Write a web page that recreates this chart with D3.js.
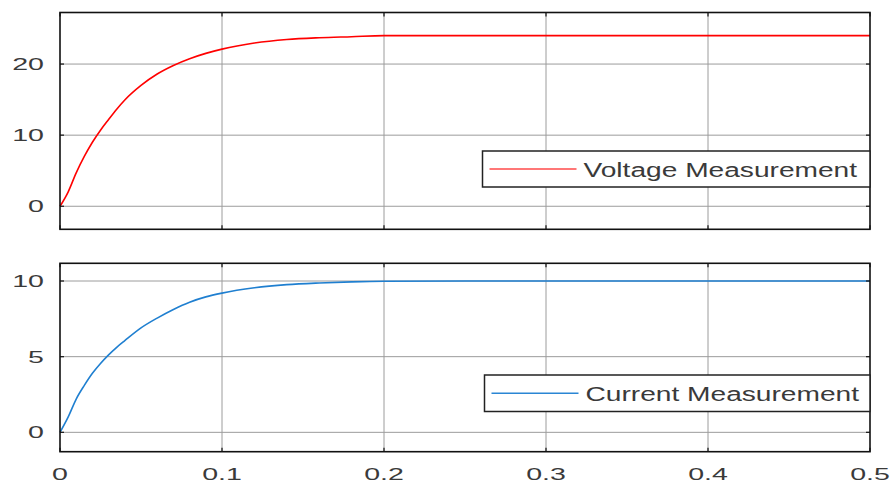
<!DOCTYPE html>
<html>
<head>
<meta charset="utf-8">
<script src="https://cdn.jsdelivr.net/npm/d3@7"></script>
<style>
  html, body { margin: 0; padding: 0; background: #ffffff; }
  svg { display: block; }
</style>
</head>
<body>
<svg id="chart" width="892" height="490"></svg>
<script>
// values
const time    = [0, 0.005, 0.01, 0.015, 0.02, 0.025, 0.03, 0.035, 0.04, 0.05, 0.06, 0.07, 0.08, 0.09, 0.1, 0.12, 0.14, 0.16, 0.18, 0.2, 0.25, 0.3, 0.4, 0.5];
const voltage = [0, 2.0, 4.7, 7.0, 9.0, 10.7, 12.2, 13.65, 14.95, 17.0, 18.6, 19.8, 20.75, 21.5, 22.1, 22.95, 23.45, 23.7, 23.85, 24.0, 24.0, 24.0, 24.0, 24.0];
const current = [0, 1.0, 2.2, 3.1, 3.9, 4.55, 5.12, 5.62, 6.06, 6.9, 7.55, 8.12, 8.6, 8.95, 9.2, 9.55, 9.76, 9.87, 9.94, 9.98, 10, 10, 10, 10];
const xTicks = [0, 0.1, 0.2, 0.3, 0.4, 0.5];
const voltTicks = [0, 10, 20];
const currTicks = [0, 5, 10];

const svg = d3.select("#chart");
const left = 60, right = 870;
const textColor = "#3a3a3a";

const x = d3.scaleLinear().domain([0, 0.5]).range([left, right]);

function panel(cfg) {
  const y = d3.scaleLinear().domain(cfg.domain).range([cfg.bottom, cfg.top]);
  const g = svg.append("g");

  g.append("rect")
    .attr("x", left).attr("y", cfg.top)
    .attr("width", right - left).attr("height", cfg.bottom - cfg.top)
    .attr("fill", "#fff");

  // grid
  g.selectAll(".vg").data(xTicks.slice(1, -1)).enter().append("line")
    .attr("x1", d => x(d)).attr("x2", d => x(d))
    .attr("y1", cfg.top).attr("y2", cfg.bottom)
    .attr("stroke", "#9c9c9c").attr("stroke-width", 1);
  g.selectAll(".hg").data(cfg.ticks).enter().append("line")
    .attr("x1", left).attr("x2", right)
    .attr("y1", d => y(d)).attr("y2", d => y(d))
    .attr("stroke", "#9c9c9c").attr("stroke-width", 1);

  // trace
  const line = d3.line()
    .x((d, i) => x(time[i]))
    .y(d => y(d))
    .curve(d3.curveMonotoneX);
  g.append("path").datum(cfg.values)
    .attr("d", line)
    .attr("fill", "none")
    .attr("stroke", cfg.color)
    .attr("stroke-width", 1.6);

  // inward ticks on all sides
  const tl = 4;
  xTicks.forEach(t => {
    g.append("line").attr("x1", x(t)).attr("x2", x(t))
      .attr("y1", cfg.top).attr("y2", cfg.top + tl)
      .attr("stroke", "#222").attr("stroke-width", 1.3);
    g.append("line").attr("x1", x(t)).attr("x2", x(t))
      .attr("y1", cfg.bottom).attr("y2", cfg.bottom - tl)
      .attr("stroke", "#222").attr("stroke-width", 1.3);
  });
  cfg.ticks.forEach(t => {
    g.append("line").attr("x1", left).attr("x2", left + tl)
      .attr("y1", y(t)).attr("y2", y(t))
      .attr("stroke", "#222").attr("stroke-width", 1.3);
    g.append("line").attr("x1", right).attr("x2", right - tl)
      .attr("y1", y(t)).attr("y2", y(t))
      .attr("stroke", "#222").attr("stroke-width", 1.3);
  });

  // box
  g.append("rect")
    .attr("x", left).attr("y", cfg.top)
    .attr("width", right - left).attr("height", cfg.bottom - cfg.top)
    .attr("fill", "none").attr("stroke", "#111").attr("stroke-width", 1.6);

  // y tick labels
  cfg.ticks.forEach(t => {
    g.append("text")
      .attr("transform", "translate(44," + (y(t) + 6) + ") scale(1.68,1)")
      .attr("text-anchor", "end")
      .attr("font-family", "Liberation Sans, Arial, sans-serif")
      .attr("font-size", 17)
      .attr("fill", textColor)
      .text(t);
  });

  // legend
  const lg = cfg.legend;
  g.append("rect")
    .attr("x", lg.x).attr("y", lg.y)
    .attr("width", right - lg.x).attr("height", lg.h)
    .attr("fill", "#fff").attr("stroke", "#222").attr("stroke-width", 1.5);
  g.append("line")
    .attr("x1", lg.x + 7).attr("x2", lg.x + 94)
    .attr("y1", lg.y + lg.h / 2).attr("y2", lg.y + lg.h / 2)
    .attr("stroke", cfg.legendColor).attr("stroke-width", 1.5);
  g.append("text")
    .attr("transform", "translate(" + (lg.x + 101) + "," + (lg.y + lg.h / 2 + 7.5) + ") scale(1.34,1)")
    .attr("font-family", "Liberation Sans, Arial, sans-serif")
    .attr("font-size", 21)
    .attr("fill", textColor)
    .text(cfg.label);

  return g;
}

panel({
  top: 12.5, bottom: 229.3, domain: [-3.24, 27.25],
  ticks: voltTicks, values: voltage, color: "#ff0000", legendColor: "#ff4a4a",
  label: "Voltage Measurement",
  legend: { x: 482.5, y: 151, h: 36 }
});

panel({
  top: 263.3, bottom: 451.7, domain: [-1.28, 11.17],
  ticks: currTicks, values: current, color: "#1f7fd0", legendColor: "#2a86d4",
  label: "Current Measurement",
  legend: { x: 484.5, y: 375, h: 36.5 }
});

// x tick labels under the lower panel
xTicks.forEach(t => {
  svg.append("text")
    .attr("transform", "translate(" + x(t) + ",480) scale(1.68,1)")
    .attr("text-anchor", "middle")
    .attr("font-family", "Liberation Sans, Arial, sans-serif")
    .attr("font-size", 17)
    .attr("fill", textColor)
    .text(t);
});
</script>
</body>
</html>
